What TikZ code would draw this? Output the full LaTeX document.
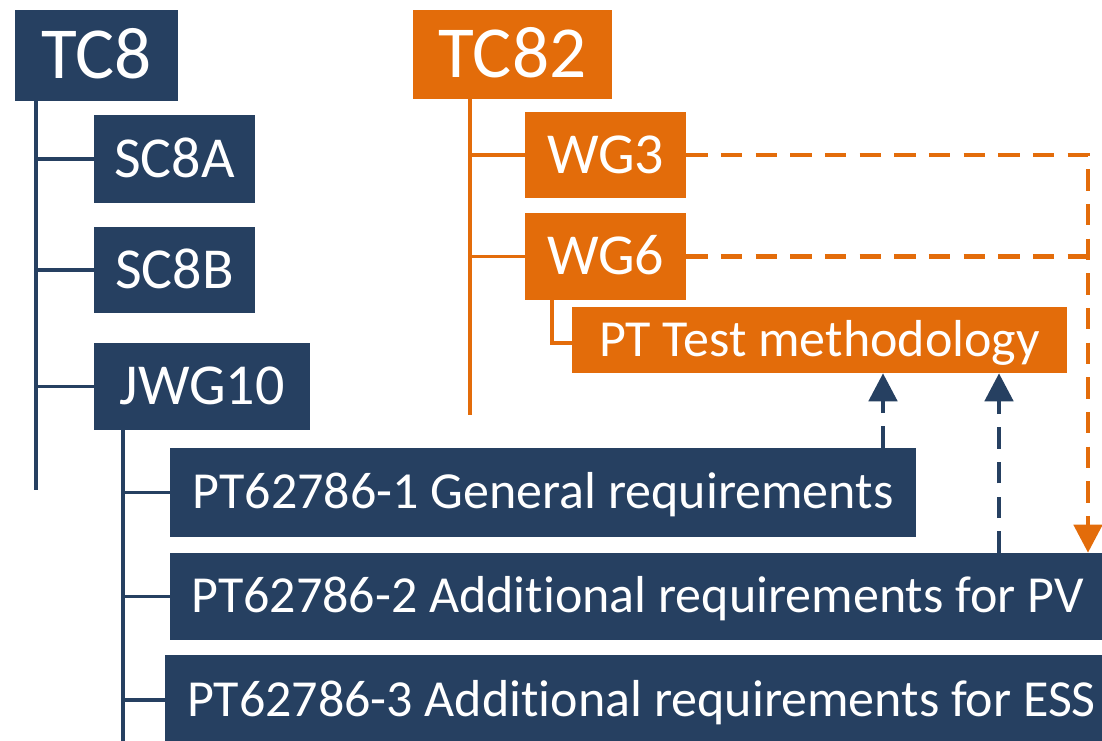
\documentclass[tikz,border=0pt]{standalone}
\usepackage{fontspec}
\setmainfont{Carlito}[Ligatures=NoCommon]
\usetikzlibrary{arrows.meta}
\definecolor{navy}{RGB}{38,64,97}
\definecolor{tcorange}{RGB}{227,108,10}
\tikzset{
  box/.style={rectangle, inner sep=0pt, text=white, text depth=0pt},
  navybox/.style={box, fill=navy},
  orangebox/.style={box, fill=tcorange},
  bigtxt/.style={font=\fontsize{55}{60}\selectfont, text height=34.8pt},
  midtxt/.style={font=\fontsize{43.5}{48}\selectfont, text height=27.5pt},
  pttxt/.style={font=\fontsize{39}{44}\selectfont, text height=24.6pt},
  tree/.style={line width=2.4pt},
  navytree/.style={tree, draw=navy},
  orangetree/.style={tree, draw=tcorange},
  link/.style={line width=3.6pt, dash pattern=on 16pt off 10pt},
  tip/.style={-{Triangle[width=21pt,length=21pt]}}
}
\begin{document}
\begin{tikzpicture}[x=0.75pt, y=-0.75pt]
\useasboundingbox (0,0) rectangle (1102,741);
\clip (0,0) rectangle (1102,741);

% TC8 branch
\node[navybox, bigtxt, minimum width=122.25pt, minimum height=68.25pt] (tc8) at (96.5,55.5) {TC8};
\node[navybox, midtxt, minimum width=120.75pt, minimum height=66pt] (sc8a) at (174.5,159) {SC8A};
\node[navybox, midtxt, minimum width=120.75pt, minimum height=64.5pt] (sc8b) at (174.5,270) {SC8B};
\node[navybox, midtxt, minimum width=162pt, minimum height=65.25pt] (jwg10) at (202,386.5) {JWG10};

% project teams under JWG10
\node[navybox, pttxt, minimum width=559.5pt, minimum height=66.75pt] (pt1) at (543,492.5) {PT62786-1 General requirements};
\node[navybox, pttxt, minimum width=701.25pt, minimum height=65.25pt] (pt2) at (637.5,596.5) {PT62786-2 Additional requirements for PV};
\node[navybox, pttxt, minimum width=714.75pt, minimum height=67.5pt] (pt3) at (641.5,700) {PT62786-3 Additional requirements for ESS};

% TC82 branch
\node[orangebox, bigtxt, minimum width=149.25pt, minimum height=66.75pt] (tc82) at (512.5,54.5) {TC82};
\node[orangebox, midtxt, minimum width=120.75pt, minimum height=64.5pt] (wg3) at (605.5,155) {WG3};
\node[orangebox, midtxt, minimum width=120.75pt, minimum height=65.25pt] (wg6) at (605.5,256.5) {WG6};
\node[orangebox, pttxt, minimum width=371.25pt, minimum height=49.5pt] (ptt) at (819.5,340) {PT Test methodology};

% trunk ends and bends
\coordinate (tc8end) at (36,490);
\coordinate (jend) at (123,745);
\coordinate (tc82end) at (470,415);
\coordinate (wgbend) at (552,343);
\coordinate (corner) at (1088,155);
\coordinate (up1) at (883,0);
\coordinate (up2) at (999,0);

% TC8 tree
\draw[navytree] (tc8.south -| tc8end) -- (tc8end);
\draw[navytree] (tc8end |- sc8a.west) -- (sc8a.west);
\draw[navytree] (tc8end |- sc8b.west) -- (sc8b.west);
\draw[navytree] (tc8end |- jwg10.west) -- (jwg10.west);

% JWG10 tree
\draw[navytree] (jwg10.south -| jend) -- (jend);
\draw[navytree] (jend |- pt1.west) -- (pt1.west);
\draw[navytree] (jend |- pt2.west) -- (pt2.west);
\draw[navytree] (jend |- pt3.west) -- (pt3.west);

% TC82 tree
\draw[orangetree] (tc82.south -| tc82end) -- (tc82end);
\draw[orangetree] (tc82end |- wg3.west) -- (wg3.west);
\draw[orangetree] (tc82end |- wg6.west) -- (wg6.west);
\draw[orangetree] (wg6.south -| wgbend) -- (wgbend) -- (wgbend -| ptt.west);

% liaisons
\draw[link, tcorange, tip] (wg3.east) -- (corner) -- (corner |- pt2.north);
\draw[link, tcorange] (wg6.east) -- (wg6.east -| corner);
\draw[link, navy, tip] (pt1.north -| up1) -- (ptt.south -| up1);
\draw[link, navy, tip] (pt2.north -| up2) -- (ptt.south -| up2);
\end{tikzpicture}
\end{document}
